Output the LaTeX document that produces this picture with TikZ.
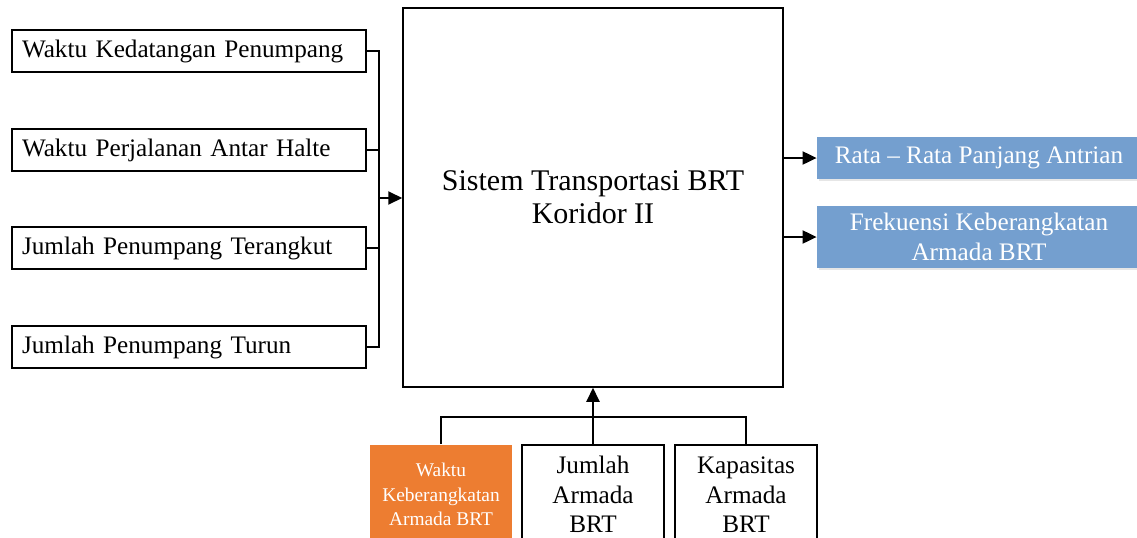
\documentclass[tikz,border=0pt]{standalone}
\usepackage{fontspec}
\setmainfont{Liberation Serif}
\usetikzlibrary{arrows.meta,shadows}
\definecolor{outblue}{RGB}{116,159,207}
\definecolor{paramorange}{RGB}{237,125,49}
\begin{document}
\begin{tikzpicture}[x=0.5pt, y=-0.5pt,
  inbox/.style={draw, line width=0.75pt, minimum height=21pt, text width=167pt, inner xsep=5pt, align=left, font=\fontsize{12.6}{14.75}\selectfont},
  outbox/.style={fill=outblue, text=white, minimum width=162pt, align=center, font=\fontsize{12.6}{15}\selectfont, drop shadow={opacity=0.2, shadow xshift=1pt, shadow yshift=-1pt}},
  parbox/.style={draw, line width=0.75pt, anchor=north, minimum width=71pt, minimum height=50pt, align=center, font=\fontsize{12.6}{14.75}\selectfont},
  link/.style={line width=1pt},
  flow/.style={link, -{Triangle[length=7pt,width=6.5pt]}}]
\useasboundingbox (0,0) rectangle (1137,537);
% Input variables
\node[inbox] (kedatangan) at (189,51) {Waktu Kedatangan Penumpang};
\node[inbox] (perjalanan) at (189,150) {Waktu Perjalanan Antar Halte};
\node[inbox] (terangkut) at (189,248) {Jumlah Penumpang Terangkut};
\node[inbox] (turun) at (189,347) {Jumlah Penumpang Turun};
% System
\node[draw, line width=0.75pt, minimum width=190pt, minimum height=189.5pt, align=center, font=\fontsize{15}{16.5}\selectfont] (sistem) at (593,197.5) {Sistem Transportasi BRT\\Koridor II};
% Output variables
\node[outbox, minimum height=21pt] (antrian) at (979,158) {Rata -- Rata Panjang Antrian};
\node[outbox, minimum height=30pt] (frekuensi) at (979,237) {Frekuensi Keberangkatan\\Armada BRT};
% Parameters
\node[parbox, draw=none, fill=paramorange, text=white, font=\fontsize{9.7}{12.25}\selectfont] (keberangkatan) at (441,444) {Waktu\\Keberangkatan\\Armada BRT};
\node[parbox] (jumlah) at (593,444) {Jumlah\\Armada\\BRT};
\node[parbox] (kapasitas) at (746,444) {Kapasitas\\Armada\\BRT};
% Input bracket
\coordinate (merge) at (379,198);
\draw[link] (kedatangan.east) -| (merge);
\draw[link] (perjalanan.east) -| (merge);
\draw[link] (terangkut.east) -| (merge);
\draw[link] (turun.east) -| (merge);
\draw[flow] (merge) -- (sistem.west |- merge);
% Outputs
\draw[flow] (sistem.east |- antrian.west) -- (antrian.west);
\draw[flow] (sistem.east |- frekuensi.west) -- (frekuensi.west);
% Parameter bracket
\coordinate (join) at (593,417);
\draw[link] (keberangkatan.north) |- (join);
\draw[link] (kapasitas.north) |- (join);
\draw[flow] (jumlah.north) -- (sistem.south);
\end{tikzpicture}
\end{document}
